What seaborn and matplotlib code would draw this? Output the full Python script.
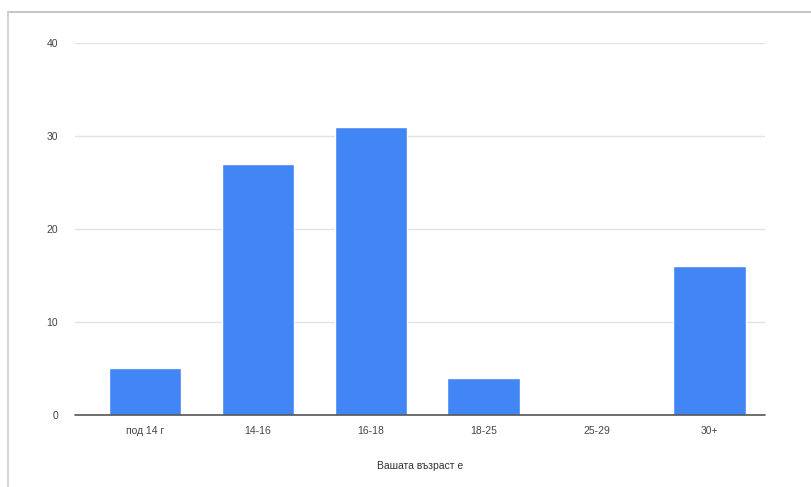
import matplotlib
matplotlib.use("Agg")
import matplotlib.pyplot as plt
import seaborn as sns
import pandas as pd
from matplotlib.lines import Line2D

# данни
categories = ["под 14 г", "14-16", "16-18", "18-25", "25-29", "30+"]
counts = [5, 27, 31, 4, 0, 16]
yticks = [0, 10, 20, 30, 40]

df = pd.DataFrame({"age": categories, "count": counts})

sns.set_theme(style="white")
plt.rcParams['font.family'] = ['Liberation Sans', 'DejaVu Sans']

fig = plt.figure(figsize=(8.12, 4.87), dpi=100)
ax = fig.add_axes([0.092, 0.148, 0.85, 0.764])

sns.barplot(data=df, x="age", y="count", color="#4285f4", saturation=1,
            width=0.64, ax=ax, zorder=3)

ax.set_ylim(0, 40)
ax.set_xlim(-0.62, 5.49)
ax.set_yticks(yticks)
ax.yaxis.grid(True, color="#e3e3e3", linewidth=1, zorder=0)
ax.axhline(0, color="#555555", linewidth=1.2, zorder=4, clip_on=False)
for s in ax.spines.values():
    s.set_visible(False)
ax.tick_params(axis="both", length=0, labelsize=7.5, colors="#444444")
ax.tick_params(axis="x", pad=8)
ax.tick_params(axis="y", pad=12)
ax.set_xlabel("Вашата възраст е", fontsize=7.5, color="#333333", labelpad=18)
ax.set_ylabel("")

# рамка около графиката
fig.add_artist(Line2D([0.01, 1.0], [0.975, 0.975], color="#bbbbbb", linewidth=1.2))
fig.add_artist(Line2D([0.01, 0.01], [0.0, 0.975], color="#cccccc", linewidth=1.2))

fig.savefig("out.png", dpi=100, facecolor="white")
